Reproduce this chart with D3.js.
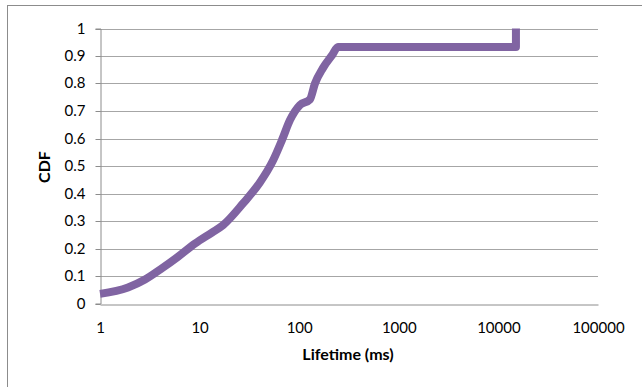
<!DOCTYPE html>
<html>
<head>
<meta charset="utf-8">
<script src="https://cdn.jsdelivr.net/npm/d3@7"></script>
<style>
  html, body { margin: 0; padding: 0; background: #fff; }
  svg { display: block; }
  text { font-family: Lato, "Open Sans", "Liberation Sans", sans-serif; fill: #000; }
</style>
</head>
<body>
<svg id="chart" width="642" height="387"></svg>
<script>
// Data
const lifetimeMs = [1, 1.91, 2.83, 4.19, 6.07, 9.0, 13.3, 17.2, 27.3, 40.3, 54.6, 67.1, 80.8, 101.8, 128, 144, 173, 215, 245, 322, 15000, 15000];
const cdfValues  = [0.035, 0.058, 0.087, 0.128, 0.17, 0.218, 0.258, 0.285, 0.364, 0.44, 0.52, 0.594, 0.667, 0.722, 0.742, 0.8, 0.856, 0.904, 0.933, 0.933, 0.933, 1.0];
const xTickValues = [1, 10, 100, 1000, 10000, 100000];
const yTickValues = [0, 0.1, 0.2, 0.3, 0.4, 0.5, 0.6, 0.7, 0.8, 0.9, 1];
const xTitle = "Lifetime (ms)";
const yTitle = "CDF";

const svg = d3.select("#chart");
const plotLeft = 100, plotRight = 598, plotTop = 28.5, plotBottom = 303.5;
const fontFam = "Lato, 'Open Sans', sans-serif";

// Outer chart border (cropped at right/bottom)
svg.append("rect")
  .attr("x", 7.5).attr("y", 5.5)
  .attr("width", 700).attr("height", 500)
  .attr("fill", "none").attr("stroke", "#8c8c8c").attr("stroke-width", 1);

const x = d3.scaleLog().domain([1, 100000]).range([plotLeft, plotRight]);
const y = d3.scaleLinear().domain([0, 1]).range([plotBottom, plotTop]);

// Gridlines
svg.append("g")
  .selectAll("line")
  .data(yTickValues.filter(d => d > 0))
  .join("line")
  .attr("x1", plotLeft).attr("x2", plotRight)
  .attr("y1", d => Math.round(y(d)) + 0.5).attr("y2", d => Math.round(y(d)) + 0.5)
  .attr("stroke", "#a6a6a6").attr("stroke-width", 1);

// Y axis
const yAxis = svg.append("g")
  .attr("transform", `translate(${plotLeft + 0.5},0)`)
  .call(d3.axisLeft(y).tickValues(yTickValues).tickSize(5).tickPadding(10)
    .tickFormat(d => d === 0 ? "0" : d === 1 ? "1" : d3.format(".1f")(d)));
yAxis.select(".domain").attr("stroke", "#8c8c8c");
yAxis.selectAll(".tick line").attr("stroke", "#8c8c8c");
yAxis.selectAll(".tick").attr("transform", d => `translate(0,${Math.round(y(d)) + 0.5})`);
yAxis.selectAll("text").attr("font-size", 15).attr("font-family", fontFam).attr("fill", "#000");

// X axis
const xAxis = svg.append("g")
  .attr("transform", `translate(0,${Math.round(plotBottom) + 0.5})`)
  .call(d3.axisBottom(x).tickValues(xTickValues).tickSize(0).tickPadding(18)
    .tickFormat(d3.format("d")));
xAxis.select(".domain").attr("stroke", "#8c8c8c");
xAxis.selectAll("text").attr("font-size", 15).attr("font-family", fontFam).attr("fill", "#000");

// Line
const pts = lifetimeMs.map((v, i) => [v, cdfValues[i]]);
svg.append("path")
  .datum(pts)
  .attr("fill", "none")
  .attr("stroke", "#8064A2")
  .attr("stroke-width", 8)
  .attr("stroke-linejoin", "round")
  .attr("d", d3.line().x(d => x(d[0])).y(d => y(d[1])).curve(d3.curveMonotoneX));

// Axis titles
svg.append("text")
  .attr("x", 348).attr("y", 360)
  .attr("text-anchor", "middle")
  .attr("font-size", 16).attr("font-weight", "bold")
  .text(xTitle);

svg.append("text")
  .attr("transform", "translate(50,167) rotate(-90)")
  .attr("text-anchor", "middle")
  .attr("font-size", 16).attr("font-weight", "bold")
  .text(yTitle);
</script>
</body>
</html>
